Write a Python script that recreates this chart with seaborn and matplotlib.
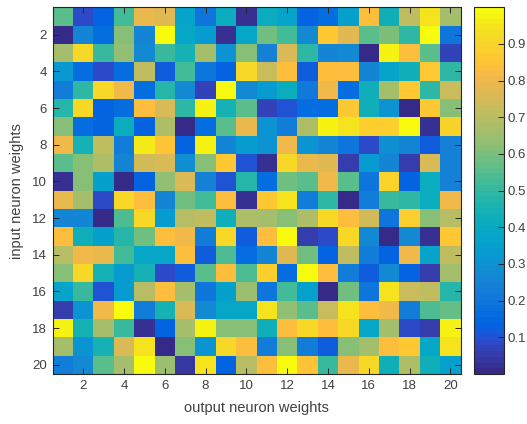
import numpy as np
import matplotlib
matplotlib.use("Agg")
import matplotlib.pyplot as plt
from matplotlib.colors import ListedColormap
import seaborn as sns

# Weight matrix, one list per input neuron (row), 20 output neurons each
row_01 = [0.55, 0.09, 0.13, 0.53, 0.79, 0.77, 0.37, 0.19, 0.41, 0.02, 0.41, 0.37, 0.13, 0.17, 0.35, 0.84, 0.43, 0.71, 0.94, 0.67]
row_02 = [0.01, 0.25, 0.16, 0.62, 0.26, 0.99, 0.39, 0.34, 0.02, 0.39, 0.59, 0.52, 0.27, 0.87, 0.78, 0.56, 0.60, 0.49, 0.99, 0.20]
row_03 = [0.66, 0.91, 0.50, 0.63, 0.27, 0.50, 0.45, 0.66, 0.31, 0.61, 0.24, 0.75, 0.49, 0.26, 0.27, 0.01, 0.98, 0.83, 0.55, 0.07]
row_04 = [0.32, 0.17, 0.08, 0.17, 0.71, 0.12, 0.53, 0.19, 0.14, 0.91, 0.72, 0.84, 0.12, 0.84, 0.83, 0.25, 0.37, 0.43, 0.87, 0.49]
row_05 = [0.23, 0.49, 0.92, 0.81, 0.16, 0.48, 0.28, 0.07, 0.99, 0.28, 0.34, 0.41, 0.21, 0.81, 0.17, 0.43, 0.67, 0.87, 0.49, 0.73]
row_06 = [0.48, 0.91, 0.13, 0.17, 0.84, 0.76, 0.49, 0.98, 0.45, 0.55, 0.07, 0.10, 0.16, 0.17, 0.86, 0.43, 0.31, 0.01, 0.87, 0.62]
row_07 = [0.62, 0.17, 0.14, 0.41, 0.13, 0.68, 0.01, 0.17, 0.56, 0.79, 0.31, 0.23, 0.68, 0.98, 0.95, 0.89, 0.89, 0.99, 0.03, 0.90]
row_08 = [0.81, 0.45, 0.71, 0.23, 0.96, 0.85, 0.13, 0.97, 0.26, 0.34, 0.31, 0.81, 0.31, 0.25, 0.19, 0.08, 0.29, 0.26, 0.12, 0.24]
row_09 = [0.56, 0.62, 0.68, 0.26, 0.74, 0.76, 0.29, 0.62, 0.87, 0.10, 0.02, 0.92, 0.79, 0.78, 0.05, 0.33, 0.26, 0.06, 0.75, 0.24]
row_10 = [0.02, 0.62, 0.35, 0.01, 0.13, 0.63, 0.75, 0.24, 0.10, 0.48, 0.17, 0.59, 0.55, 0.81, 0.56, 0.19, 0.90, 0.14, 0.41, 0.24]
row_11 = [0.79, 0.67, 0.09, 0.92, 0.84, 0.26, 0.59, 0.53, 0.83, 0.03, 0.87, 0.94, 0.23, 0.49, 0.01, 0.23, 0.50, 0.49, 0.41, 0.81]
row_12 = [0.26, 0.26, 0.01, 0.54, 0.92, 0.34, 0.70, 0.71, 0.43, 0.68, 0.66, 0.61, 0.68, 0.91, 0.84, 0.74, 0.19, 0.89, 0.61, 0.70]
row_13 = [0.83, 0.43, 0.35, 0.47, 0.58, 0.84, 0.81, 0.23, 0.92, 0.11, 0.84, 0.99, 0.05, 0.09, 0.91, 0.28, 0.01, 0.28, 0.02, 0.87]
row_14 = [0.70, 0.81, 0.79, 0.52, 0.39, 0.39, 0.84, 0.11, 0.54, 0.17, 0.26, 0.77, 0.58, 0.13, 0.71, 0.23, 0.14, 0.81, 0.37, 0.71]
row_15 = [0.61, 0.92, 0.45, 0.33, 0.45, 0.08, 0.11, 0.56, 0.84, 0.54, 0.89, 0.17, 0.99, 0.84, 0.23, 0.12, 0.28, 0.14, 0.05, 0.67]
row_16 = [0.37, 0.50, 0.10, 0.33, 0.70, 0.84, 0.67, 0.19, 0.35, 0.65, 0.19, 0.53, 0.35, 0.01, 0.59, 0.19, 0.95, 0.73, 0.71, 0.47]
row_17 = [0.06, 0.30, 0.81, 0.99, 0.23, 0.45, 0.76, 0.28, 0.39, 0.39, 0.95, 0.63, 0.56, 0.73, 0.95, 0.83, 0.81, 0.23, 0.54, 0.57]
row_18 = [0.98, 0.45, 0.67, 0.50, 0.02, 0.13, 0.67, 0.98, 0.62, 0.61, 0.43, 0.84, 0.92, 0.83, 0.91, 0.39, 0.67, 0.08, 0.05, 0.98]
row_19 = [0.67, 0.31, 0.45, 0.76, 0.95, 0.01, 0.61, 0.30, 0.92, 0.84, 0.23, 0.61, 0.23, 0.11, 0.61, 0.67, 0.84, 0.87, 0.39, 0.95]
row_20 = [0.23, 0.27, 0.55, 0.67, 0.99, 0.65, 0.04, 0.94, 0.13, 0.70, 0.83, 0.99, 0.85, 0.50, 0.79, 0.92, 0.43, 0.68, 0.43, 0.35]

tick_labels = [2, 4, 6, 8, 10, 12, 14, 16, 18, 20]
cbar_ticks = [0.1, 0.2, 0.3, 0.4, 0.5, 0.6, 0.7, 0.8, 0.9]
x_title = "output neuron weights"
y_title = "input neuron weights"

# MATLAB parula, 64 entries
parula_rgb = [
    [0.2081, 0.1663, 0.5292], [0.2116, 0.1898, 0.5777], [0.2123, 0.2138, 0.6270], [0.2081, 0.2386, 0.6771],
    [0.1959, 0.2645, 0.7279], [0.1707, 0.2919, 0.7792], [0.1253, 0.3242, 0.8303], [0.0591, 0.3598, 0.8683],
    [0.0117, 0.3875, 0.8820], [0.0060, 0.4086, 0.8828], [0.0165, 0.4266, 0.8786], [0.0329, 0.4430, 0.8720],
    [0.0498, 0.4586, 0.8641], [0.0629, 0.4737, 0.8554], [0.0723, 0.4887, 0.8467], [0.0779, 0.5040, 0.8384],
    [0.0793, 0.5200, 0.8312], [0.0749, 0.5375, 0.8263], [0.0641, 0.5570, 0.8240], [0.0488, 0.5772, 0.8228],
    [0.0343, 0.5966, 0.8199], [0.0265, 0.6137, 0.8135], [0.0239, 0.6287, 0.8038], [0.0231, 0.6418, 0.7913],
    [0.0228, 0.6535, 0.7768], [0.0267, 0.6642, 0.7607], [0.0384, 0.6743, 0.7436], [0.0590, 0.6838, 0.7254],
    [0.0843, 0.6928, 0.7062], [0.1133, 0.7015, 0.6859], [0.1453, 0.7098, 0.6646], [0.1801, 0.7177, 0.6424],
    [0.2178, 0.7250, 0.6193], [0.2586, 0.7317, 0.5954], [0.3022, 0.7376, 0.5712], [0.3482, 0.7424, 0.5473],
    [0.3953, 0.7459, 0.5244], [0.4420, 0.7481, 0.5033], [0.4871, 0.7491, 0.4840], [0.5300, 0.7491, 0.4661],
    [0.5709, 0.7485, 0.4494], [0.6099, 0.7473, 0.4337], [0.6473, 0.7456, 0.4188], [0.6834, 0.7435, 0.4044],
    [0.7184, 0.7411, 0.3905], [0.7525, 0.7384, 0.3768], [0.7858, 0.7356, 0.3633], [0.8185, 0.7327, 0.3498],
    [0.8507, 0.7299, 0.3360], [0.8824, 0.7274, 0.3217], [0.9139, 0.7258, 0.3063], [0.9450, 0.7261, 0.2886],
    [0.9739, 0.7314, 0.2666], [0.9938, 0.7455, 0.2403], [0.9990, 0.7653, 0.2164], [0.9955, 0.7861, 0.1967],
    [0.9880, 0.8066, 0.1794], [0.9789, 0.8271, 0.1633], [0.9697, 0.8481, 0.1475], [0.9626, 0.8705, 0.1309],
    [0.9589, 0.8949, 0.1132], [0.9598, 0.9218, 0.0948], [0.9661, 0.9514, 0.0755], [0.9763, 0.9831, 0.0538],
]
parula = ListedColormap(parula_rgb, name="parula")

weights = np.array([row_01, row_02, row_03, row_04, row_05, row_06, row_07, row_08, row_09, row_10,
                    row_11, row_12, row_13, row_14, row_15, row_16, row_17, row_18, row_19, row_20])

sns.set_theme(style="white")
plt.rcParams["font.family"] = ["Liberation Sans", "DejaVu Sans"]

text_color = "#404040"
line_color = "#262626"

fig = plt.figure(figsize=(5.27, 4.24), dpi=100)
ax = fig.add_axes([52.5 / 527, 1 - 374 / 424, 408 / 527, 366.7 / 424])
cax = fig.add_axes([474 / 527, 1 - 374 / 424, 29.5 / 527, 366.7 / 424])

sns.heatmap(weights, ax=ax, cbar_ax=cax, cmap=parula, vmin=0, vmax=1,
            xticklabels=False, yticklabels=False, linewidths=0)

positions = [t - 0.5 for t in tick_labels]
ax.set_xticks(positions)
ax.set_xticklabels([str(t) for t in tick_labels])
ax.set_yticks(positions)
ax.set_yticklabels([str(t) for t in tick_labels], rotation=0)

# keep the inward ticks visible on top of the cells
ax.set_axisbelow(False)
cax.set_axisbelow(False)

for side in ["top", "bottom", "left", "right"]:
    ax.spines[side].set_visible(True)
    ax.spines[side].set_color(line_color)
    ax.spines[side].set_linewidth(0.8)

ax.tick_params(axis="both", which="both", direction="in", length=4, width=0.7,
               color=line_color, labelsize=9.5, labelcolor=text_color,
               top=True, right=True, bottom=True, left=True, pad=4)
ax.set_xlabel(x_title, fontsize=10.5, color=text_color, labelpad=7)
ax.set_ylabel(y_title, fontsize=10.5, color=text_color, labelpad=6)

cbar = ax.collections[0].colorbar
cbar.set_ticks(cbar_ticks)
cbar.set_ticklabels([f"{t:g}" for t in cbar_ticks])
cbar.outline.set_visible(True)
cbar.outline.set_edgecolor(line_color)
cbar.outline.set_linewidth(0.8)
cbar.ax.tick_params(direction="in", length=4, width=0.7, color=line_color,
                    labelsize=9.5, labelcolor=text_color, right=True, left=False, pad=3)

fig.savefig("out.png", dpi=100)
